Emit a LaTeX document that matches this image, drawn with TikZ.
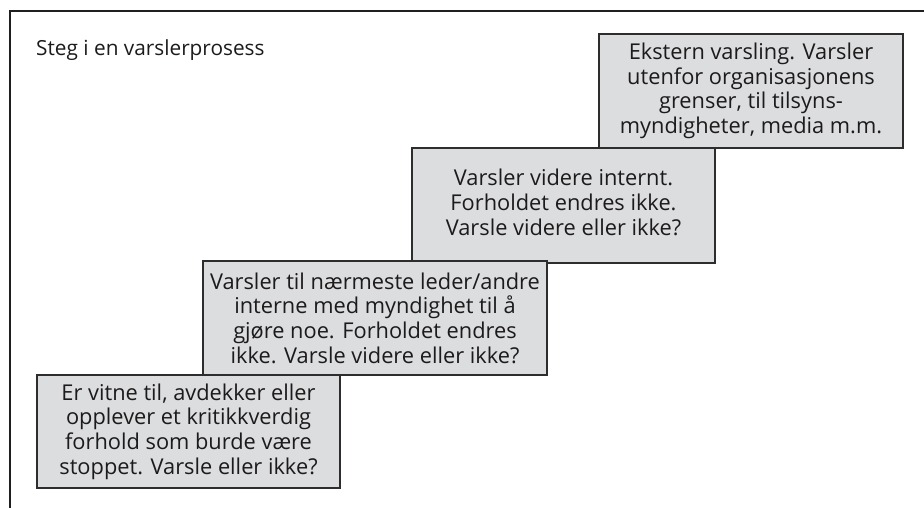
\documentclass[tikz,border=0pt]{standalone}
\usepackage{fontspec}
\setmainfont{Open Sans}
\definecolor{boxfill}{RGB}{220,221,223}
\definecolor{boxline}{RGB}{45,45,45}
\definecolor{txt}{RGB}{28,26,27}
\begin{document}
\begin{tikzpicture}[x=1pt,y=-1pt,
  stepbox/.style={draw=boxline, fill=boxfill, line width=1.7pt, rectangle,
    inner sep=0pt, align=center, text=txt,
    font=\fontsize{21.8}{24.6}\selectfont},
  frameline/.style={draw=black!88, line width=2.8pt}]
\useasboundingbox (0,0) rectangle (924,507);
\clip (0,0) rectangle (924,507);
\coordinate (fbl) at (10,520);
\coordinate (ftl) at (10,11);
\coordinate (ftr) at (940,11);
\draw[frameline] (fbl) -- (ftl) -- (ftr);
\node[anchor=base west, inner sep=0pt, text=txt, font=\fontsize{20.8}{24.2}\selectfont] (title) at (36,55) {Steg i en varslerprosess};
\node[stepbox, minimum width=304pt, minimum height=114pt] (b4) at (751,91) {Ekstern varsling. Varsler\\utenfor organisasjonens\\grenser, til tilsyns-\\myndigheter, media m.m.};
\node[stepbox, minimum width=303pt, minimum height=115pt] (b3) at (563.5,205.5) {\raisebox{-4pt}{\begin{tabular}{@{}c@{}}Varsler videre internt.\\Forholdet endres ikke.\\Varsle videre eller ikke?\end{tabular}}};
\node[stepbox, minimum width=344pt, minimum height=114pt] (b2) at (375,318) {Varsler til nærmeste leder/andre\\interne med myndighet til å\\gjøre noe. Forholdet endres\\ikke. Varsle videre eller ikke?};
\node[stepbox, minimum width=303pt, minimum height=113pt] (b1) at (188.5,431.5) {Er vitne til, avdekker eller\\opplever et kritikkverdig\\forhold som burde være\\stoppet. Varsle eller ikke?};
\end{tikzpicture}
\end{document}
